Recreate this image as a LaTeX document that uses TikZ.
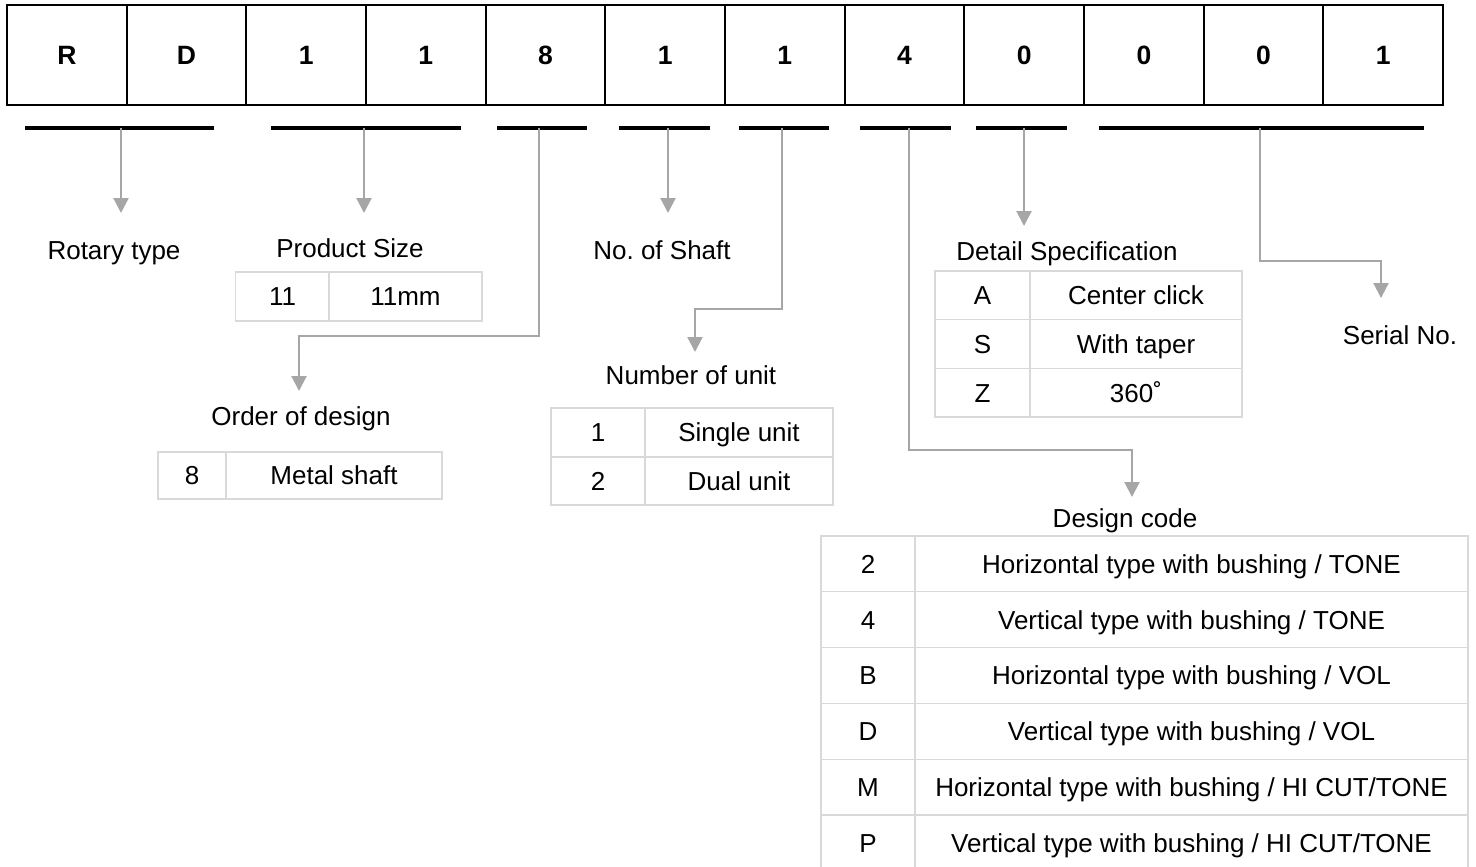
\documentclass[tikz,border=0pt]{standalone}
\usepackage{fontspec}
\setmainfont{Liberation Sans}
\usetikzlibrary{arrows.meta}
\definecolor{agray}{HTML}{A6A6A6}
\definecolor{tgray}{HTML}{D9D9D9}
\tikzset{
  topcell/.style={draw=black, line width=2.2pt, minimum width=119.67pt, minimum height=100pt, inner sep=0pt, text height=19pt, text depth=0pt, font=\fontsize{26.5}{30}\selectfont\bfseries},
  bar/.style={line width=3.5pt, draw=black},
  arr/.style={draw=agray, line width=2.2pt, -{Triangle[width=15pt,length=15pt]}},
  lbl/.style={font=\fontsize{26}{30}\selectfont\frenchspacing, inner sep=0pt, text height=18.6pt, text depth=0pt},
  tcell/.style={draw=tgray, line width=1.3pt, inner sep=0pt, text height=18.6pt, text depth=0pt, font=\fontsize{26}{30}\selectfont},
}
\begin{document}
\begin{tikzpicture}[x=1pt,y=-1pt]
\useasboundingbox (0,0) rectangle (1476,867);
\clip (0,0) rectangle (1476,867);
% top code cells
\foreach \ch [count=\i from 0] in {R,D,1,1,8,1,1,4,0,0,0,1}{
  \node[topcell] (c\i) at ({7+119.67*(\i+0.5)},55) {\ch};
}
% underline bars
\coordinate (b1l) at (25,128);   \coordinate (b1r) at (214,128);
\coordinate (b2l) at (271,128);  \coordinate (b2r) at (461,128);
\coordinate (b3l) at (497,128);  \coordinate (b3r) at (587,128);
\coordinate (b4l) at (619,128);  \coordinate (b4r) at (710,128);
\coordinate (b5l) at (739,128);  \coordinate (b5r) at (829,128);
\coordinate (b6l) at (860,128);  \coordinate (b6r) at (951,128);
\coordinate (b7l) at (976,128);  \coordinate (b7r) at (1067,128);
\coordinate (b8l) at (1099,128); \coordinate (b8r) at (1424,128);
\foreach \k in {1,...,8}{\draw[bar] (b\k l) -- (b\k r);}
% arrow start points
\coordinate (s1) at (121,128);
\coordinate (s2) at (364,128);
\coordinate (s3) at (539,128);
\coordinate (s4) at (668,128);
\coordinate (s5) at (782,128);
\coordinate (s6) at (909,128);
\coordinate (s7) at (1024,128);
\coordinate (s8) at (1260,128);
% arrow tips and bends
\coordinate (t1) at (121,213);
\coordinate (t2) at (364,213);
\coordinate (k3) at (299,336); \coordinate (t3) at (299,391);
\coordinate (t4) at (668,213);
\coordinate (k5) at (695,309); \coordinate (t5) at (695,352);
\coordinate (k6) at (1132,450); \coordinate (t6) at (1132,497);
\coordinate (t7) at (1024,226);
\coordinate (k8) at (1381,261); \coordinate (t8) at (1381,298);
% labels
\node[lbl] (rot) at (114,250) {Rotary type};
\node[lbl] (psize) at (350,248) {Product Size};
\node[lbl] (order) at (301,416) {Order of design};
\node[lbl] (shaft) at (662,250) {No. of Shaft};
\node[lbl] (nunit) at (691,375) {Number of unit};
\node[lbl] (detail) at (1067,251) {Detail Specification};
\node[lbl] (serial) at (1400,335) {Serial No.};
\node[lbl] (dcode) at (1125,518) {Design code};
% product size table
\node[tcell, minimum width=94pt, minimum height=49pt] (ps1) at (282.5,296.5) {11};
\node[tcell, minimum width=153pt, minimum height=49pt] (ps2) at (405.5,296.5) {11mm};
% order of design table
\node[tcell, minimum width=68pt, minimum height=47pt] (od1) at (192,475.5) {8};
\node[tcell, minimum width=216pt, minimum height=47pt] (od2) at (334,475.5) {Metal shaft};
% number of unit table
\node[tcell, minimum width=94pt, minimum height=49pt] (nu1) at (598,432.5) {1};
\node[tcell, minimum width=188pt, minimum height=49pt] (nu2) at (739,432.5) {Single unit};
\node[tcell, minimum width=94pt, minimum height=48pt] (nu3) at (598,481) {2};
\node[tcell, minimum width=188pt, minimum height=48pt] (nu4) at (739,481) {Dual unit};
% detail specification table
\foreach \a/\b [count=\r from 0] in {A/{Center click},S/{With taper},Z/{360˚}}{
  \node[tcell, minimum width=95pt, minimum height=48.7pt] (ds\r a) at (982.5,{295.35+48.7*\r}) {\a};
  \node[tcell, minimum width=212pt, minimum height=48.7pt] (ds\r b) at (1136,{295.35+48.7*\r}) {\b};
}
% design code table
\foreach \a/\b [count=\r from 0] in {2/{Horizontal type with bushing / TONE},4/{Vertical type with bushing / TONE},B/{Horizontal type with bushing / VOL},D/{Vertical type with bushing / VOL},M/{Horizontal type with bushing / HI CUT/TONE},P/{Vertical type with bushing / HI CUT/TONE}}{
  \node[tcell, minimum width=94pt, minimum height=55.8pt] (dc\r a) at (868,{563.9+55.8*\r}) {\a};
  \node[tcell, minimum width=553pt, minimum height=55.8pt] (dc\r b) at (1191.5,{563.9+55.8*\r}) {\b};
}
% connectors
\draw[arr] (s1) -- (t1);
\draw[arr] (s2) -- (t2);
\draw[arr] (s3) |- (k3) -- (t3);
\draw[arr] (s4) -- (t4);
\draw[arr] (s5) |- (k5) -- (t5);
\draw[arr] (s6) |- (k6) -- (t6);
\draw[arr] (s7) -- (t7);
\draw[arr] (s8) |- (k8) -- (t8);
\end{tikzpicture}
\end{document}
